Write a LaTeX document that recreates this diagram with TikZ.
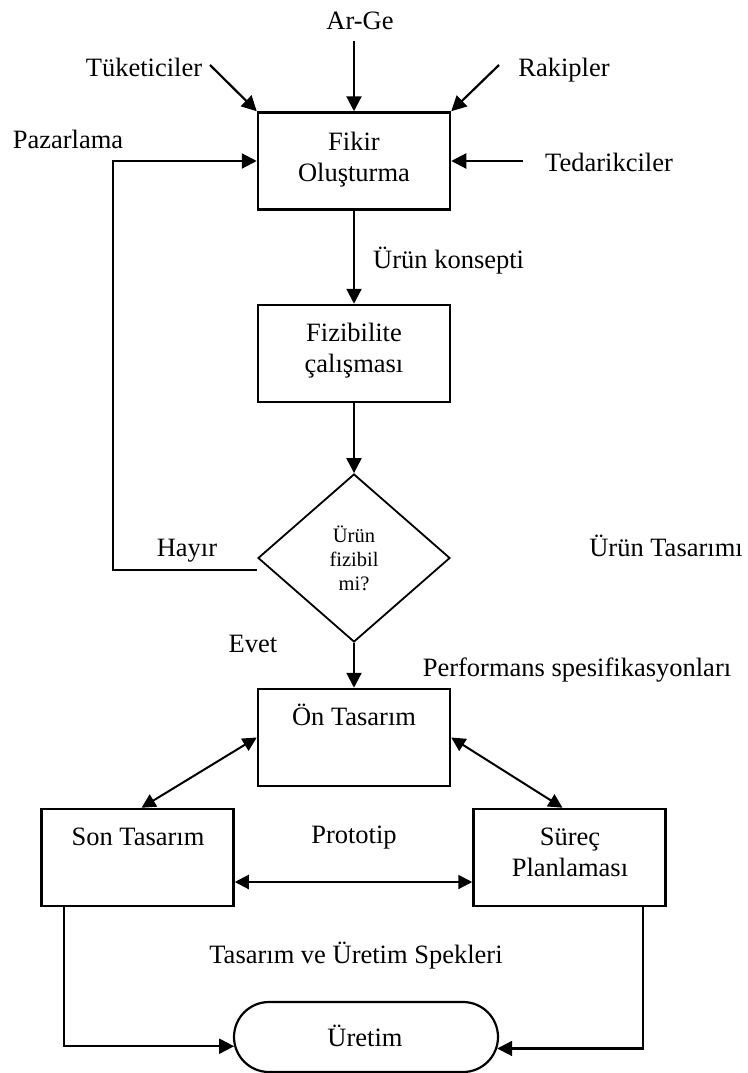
\documentclass[tikz,border=0pt]{standalone}
\usepackage{fontspec}
\setmainfont{Liberation Serif}
\usetikzlibrary{arrows.meta,shapes.geometric,shapes.misc}
\begin{document}
\begin{tikzpicture}[x=1pt,y=-1pt,
  box/.style={draw,line width=2.5pt,minimum width=192pt,minimum height=97pt,inner sep=0pt},
  txt/.style={inner sep=0pt,anchor=base,font=\fontsize{26.5}{31}\selectfont},
  arr/.style={line width=2.2pt,-{Triangle[length=15pt,width=15pt]}},
  darr/.style={line width=2pt,{Triangle[length=14pt,width=14pt]}-{Triangle[length=14pt,width=14pt]}},
  thinln/.style={line width=1.3pt},
  thickln/.style={line width=2.2pt}
]
\useasboundingbox (0,0) rectangle (747,1073);

% boxes
\node[box] (fikir) at (354,161) {};
\node[box] (fiz) at (354,353.5) {};
\node[draw,diamond,line width=1.8pt,minimum width=192pt,minimum height=168pt,inner sep=0pt] (dia) at (354,558) {};
\node[box] (on) at (354,737.5) {};
\node[box] (son) at (137.5,857.5) {};
\node[box] (sur) at (569.5,857.5) {};
\node[draw,rounded rectangle,line width=2.2pt,minimum width=264pt,minimum height=70pt,inner sep=0pt] (uret) at (366,1037) {};

% texts (multi-line nodes: base = last line)
\node[txt] (tArge) at (360,30) {Ar-Ge};
\node[txt] (tTuk) at (144,76) {Tüketiciler};
\node[txt] (tRak) at (564,76) {Rakipler};
\node[txt] (tPaz) at (68,148) {Pazarlama};
\node[txt] (tTed) at (609,171) {Tedarikciler};
\node[txt,align=center] (tFik) at (354,181) {Fikir\\Oluşturma};
\node[txt,anchor=base west] (tKon) at (373,268) {Ürün konsepti};
\node[txt,align=center] (tFiz) at (354,372) {Fizibilite\\çalışması};
\node[txt,align=center,font=\fontsize{20.5}{24}\selectfont] (tDia) at (354,590) {Ürün\\fizibil\\mi?};
\node[txt] (tHay) at (187,556) {Hayır};
\node[txt] (tUT) at (666,556) {Ürün Tasarımı};
\node[txt] (tEvet) at (253,652) {Evet};
\node[txt] (tPerf) at (577,676) {Performans spesifikasyonları};
\node[txt] (tOn) at (354,725) {Ön Tasarım};
\node[txt] (tSon) at (138,845) {Son Tasarım};
\node[txt,align=center] (tSur) at (570,876) {Süreç\\Planlaması};
\node[txt] (tProto) at (354,843) {Prototip};
\node[txt] (tSpek) at (356,963) {Tasarım ve Üretim Spekleri};
\node[txt] (tUret) at (365,1046) {Üretim};

% free ends
\coordinate (cArge) at (354,41);
\coordinate (cTuk) at (210,65);
\coordinate (cRak) at (499,65);
\coordinate (cTed) at (523,161);
\coordinate (fbA) at (137,570);
\coordinate (fbC) at (113,570);
\coordinate (fbD) at (113,161);
\coordinate (fbB) at (162,161);

% input arrows
\draw[arr] (cArge) -- (fikir.north);
\draw[arr] (cTuk) -- (fikir.north west);
\draw[arr] (cRak) -- (fikir.north east);
\draw[arr] (cTed) -- (fikir.east);

% main flow
\draw[arr] (fikir.south) -- (fiz.north);
\draw[arr] (fiz.south) -- (dia.north);
\draw[arr] (dia.south) -- (on.north);

% feedback (Hayir)
\draw[thinln] ([yshift=-12pt]dia.west) -- (fbA);
\draw[thickln] (fbA) -- (fbC) -- (fbD) -- ([xshift=1pt]fbD);
\draw[thinln] (fbD) -- (fbB);
\draw[arr] (fbB) -- (fikir.west);

% design loop
\draw[darr] (on.west) -- ([xshift=4pt]son.north);
\draw[darr] (on.east) -- ([xshift=-7pt]sur.north);
\draw[darr] ([yshift=-24.5pt]son.east) -- ([yshift=-24.5pt]sur.west);

% to production
\draw[arr] ([xshift=24pt]son.south west) |- (uret.184.4);
\draw[arr] ([xshift=-24pt]sur.south east) |- (uret.355.6);
\end{tikzpicture}
\end{document}
